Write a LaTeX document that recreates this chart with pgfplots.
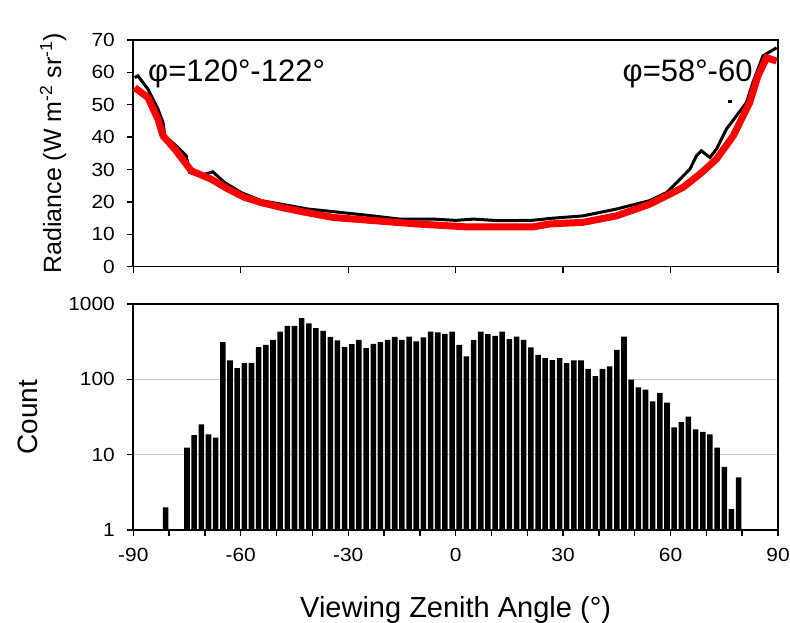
\documentclass[border=0pt]{standalone}
\usepackage{fontspec}
\setmainfont{Liberation Sans}
\newfontfamily\tickfont[FakeStretch=1.1]{Liberation Sans}
\usepackage{pgfplots}
\usepackage{pgfplotstable}
\pgfplotsset{compat=1.18}

\pgfplotstableread{
x y
-81 2
-75 12.4
-73 18.2
-71 25.2
-69 18.6
-67 16.8
-65 311
-63 179
-61 141
-59 164
-57 164
-55 267
-53 287
-51 334
-49 431
-47 512
-45 512
-43 647
-41 555
-39 477
-37 440
-35 365
-33 330
-31 270
-29 293
-27 334
-25 259
-23 295
-21 311
-19 334
-17 365
-15 334
-13 370
-11 318
-9 360
-7 430
-5 420
-3 400
-1 430
1 287
3 201
5 334
7 431
9 398
11 378
13 431
15 341
17 370
19 334
21 265
23 212
25 191
27 180
29 191
31 164
33 178
35 178
37 138
39 110
41 138
43 149
45 247
47 370
49 99
51 78
53 73
55 51
57 66
59 49
61 23
63 27
65 32
67 21.6
69 20
71 18.6
73 12.4
75 6.9
77 1.9
79 5
}\histdata

\pgfplotstableread{
x y
-89.6 58.4
-88.7 58.9
-85.9 54.8
-83.1 48.6
-81.7 44.5
-81.2 40.4
-77.5 36.8
-75.2 34.2
-74.3 29.1
-71.5 28.1
-67.8 29.3
-64.5 26.0
-59.9 22.9
-54.3 20.4
-48.7 19.3
-41.2 17.8
-34.2 17.0
-24.9 15.9
-15.6 14.7
-6.3 14.7
0 14.3
5 14.7
12 14.2
21 14.3
24 14.6
26.3 14.9
35.6 15.7
44.9 17.8
54.2 20.4
58.9 22.9
61.7 26.0
65.4 30.1
67.2 34.2
68.6 35.8
71.0 33.7
72.8 36.3
75.6 42.5
78.4 46.6
81.2 50.7
83.0 56.9
85.8 65.1
89.6 67.6
}\blackdata

\pgfplotstableread{
x y
-89.6 55.3
-85.9 52.2
-83.1 45.5
-81.7 40.4
-78.4 36.3
-73.8 29.6
-68.2 27.0
-63.6 24.0
-58.9 21.4
-54.3 19.8
-48.7 18.3
-42.0 16.8
-34.2 15.2
-20.2 14.0
-10.9 13.2
3.0 12.3
21.6 12.3
26.3 13.2
35.6 13.7
44.9 15.7
54.2 19.3
58.9 21.9
63.5 24.5
68.2 28.6
72.8 33.2
77.5 40.4
82.1 50.7
84.4 58.9
86.8 64.5
89.6 63.5
}\reddata

\begin{document}
\begin{tikzpicture}
\useasboundingbox (0pt,0pt) rectangle (790pt,623pt);
\pgfplotsset{
  common/.style={
    scale only axis, width=644.7pt,
    xmin=-90, xmax=90,
    axis line style={line width=1.6pt},
    tick style={line width=1.4pt, black},
    tick align=outside, major tick length=6pt, minor tick length=6pt,
    tick pos=left,
    tick label style={font=\tickfont\fontsize{19}{22}\selectfont},
    yticklabel style={xshift=-9pt},
    xticklabel style={yshift=-9pt},
  }
}
\begin{axis}[common, at={(133.3pt,356.3pt)}, anchor=south west, height=226.7pt,
  ymin=0, ymax=70, ytick={0,10,20,30,40,50,60,70},
  yticklabels={0,10,20,30,40,50,60,70},
  xtick={-90,-60,-30,0,30,60,90}, xticklabels={},
  ylabel={Radiance (W m\textsuperscript{-2} sr\textsuperscript{-1})},
  ylabel style={at={(axis description cs:-0.112,0.5)}, anchor=base, font=\fontsize{25}{30}\selectfont},
  clip=false]
\node[anchor=base west, font=\fontsize{31}{36}\selectfont, inner sep=0pt] at (axis cs:-85.9,57.3) {φ=120°-122°};
\node[anchor=base east, font=\fontsize{31}{36}\selectfont, inner sep=0pt] at (axis cs:82.95,57.3) {φ=58°-60};
\addplot[black, line width=3pt] table {\blackdata};
\addplot[only marks, mark=square*, mark size=1.1pt, black] coordinates {(76.5,51.2)};
\addplot[red, line width=7pt] table {\reddata};
\end{axis}

\begin{axis}[common, at={(133.3pt,93pt)}, anchor=south west, height=226pt,
  ymode=log, ymin=1, ymax=1000, ytick={1,10,100,1000},
  yticklabels={1,10,100,1000}, yminorticks=false,
  ymajorgrids, grid style={gray!45, line width=1pt},
  xtick={-90,-60,-30,0,30,60,90},
  xticklabels={-90,-60,-30,0,30,60,90},
  minor xtick={-80,-70,-50,-40,-20,-10,10,20,40,50,70,80},
  ylabel={Count},
  ylabel style={at={(axis description cs:-0.148,0.5)}, anchor=base, font=\fontsize{28}{32}\selectfont},
  xlabel={Viewing Zenith Angle (°)},
  xlabel style={at={(axis description cs:0.5,-0.389)}, anchor=base, font=\fontsize{29}{34}\selectfont},
  ybar, bar width=1.55]
\addplot[fill=black, draw=none] table {\histdata};
\end{axis}
\end{tikzpicture}
\end{document}
